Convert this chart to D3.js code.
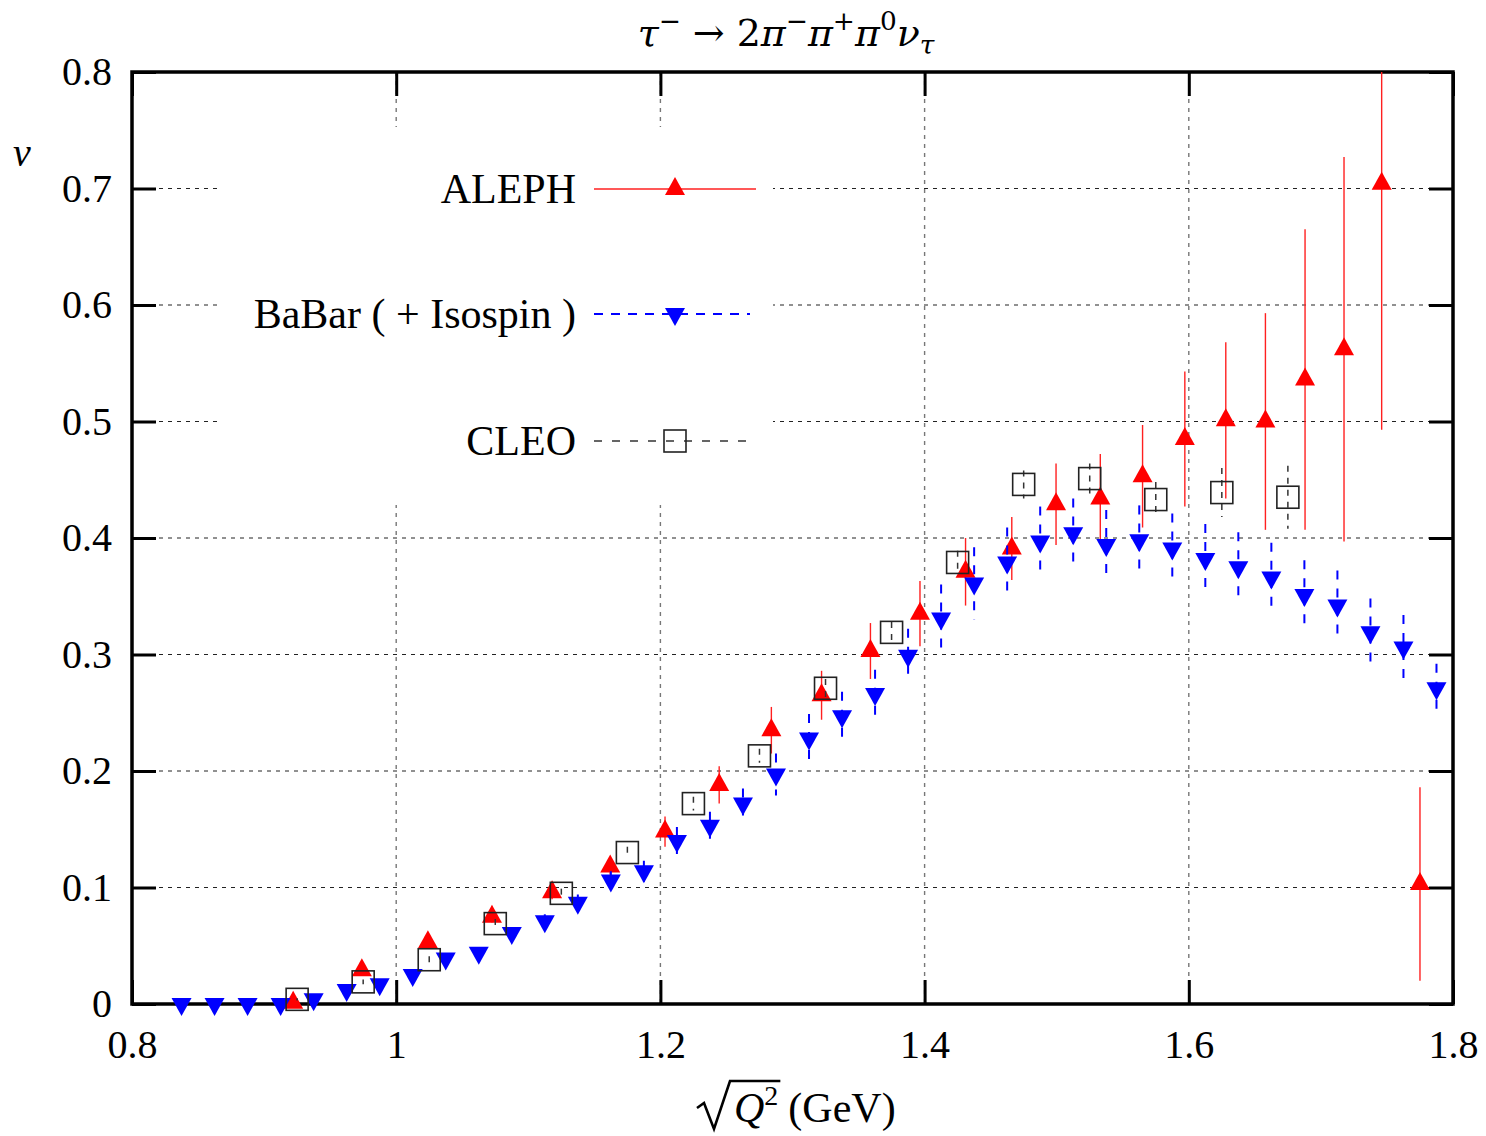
<!DOCTYPE html>
<html>
<head>
<meta charset="utf-8">
<script src="https://cdn.jsdelivr.net/npm/d3@7"></script>
<style>
  html, body { margin: 0; padding: 0; background: #fff; }
  svg { display: block; }
  text { font-family: "Liberation Serif", "DejaVu Serif", serif; fill: #000; }
  text.title { font-family: "DejaVu Serif", "Liberation Serif", serif; }
</style>
</head>
<body>
<svg id="chart" width="1486" height="1136"></svg>
<script>
// ---------------- data ----------------
const xTickValues = [0.8, 1.0, 1.2, 1.4, 1.6, 1.8];
const xTickLabels = ["0.8", "1", "1.2", "1.4", "1.6", "1.8"];
const yTickValues = [0, 0.1, 0.2, 0.3, 0.4, 0.5, 0.6, 0.7, 0.8];
const yTickLabels = ["0", "0.1", "0.2", "0.3", "0.4", "0.5", "0.6", "0.7", "0.8"];
const seriesNames = ["ALEPH", "BaBar ( + Isospin )", "CLEO"];

const alephX = [0.922, 0.974, 1.024, 1.0725, 1.118, 1.162, 1.2035, 1.2445, 1.284, 1.322, 1.359, 1.3965,
                1.431, 1.466, 1.4995, 1.533, 1.565, 1.597, 1.628, 1.658, 1.688, 1.7175, 1.746, 1.775];
const alephY = [0.001, 0.029, 0.053, 0.075, 0.096, 0.118, 0.148, 0.188, 0.235, 0.265, 0.303, 0.335,
                0.371, 0.391, 0.429, 0.434, 0.453, 0.485, 0.501, 0.500, 0.536, 0.562, 0.704, 0.103];
const alephErr = [0.002, 0.003, 0.004, 0.005, 0.006, 0.007, 0.013, 0.016, 0.020, 0.021, 0.024, 0.028,
                  0.029, 0.027, 0.035, 0.038, 0.044, 0.058, 0.067, 0.093, 0.129, 0.165, 0.211, 0.083];

const babarX = [0.8375, 0.8625, 0.8875, 0.9125, 0.9375, 0.9625, 0.9875, 1.0125, 1.0375, 1.0625,
                1.0875, 1.1125, 1.1375, 1.1625, 1.1875, 1.2125, 1.2375, 1.2625, 1.2875, 1.3125,
                1.3375, 1.3625, 1.3875, 1.4125, 1.4375, 1.4625, 1.4875, 1.5125, 1.5375, 1.5625,
                1.5875, 1.6125, 1.6375, 1.6625, 1.6875, 1.7125, 1.7375, 1.7625, 1.7875];
const babarY = [0.000, 0.000, 0.000, 0.000, 0.004, 0.012, 0.017, 0.025, 0.039, 0.044,
                0.061, 0.071, 0.087, 0.106, 0.114, 0.140, 0.153, 0.172, 0.197, 0.228,
                0.247, 0.266, 0.299, 0.331, 0.361, 0.379, 0.397, 0.404, 0.394, 0.398,
                0.391, 0.382, 0.375, 0.366, 0.351, 0.342, 0.319, 0.306, 0.271];
const babarErr = [0.001, 0.001, 0.001, 0.001, 0.001, 0.002, 0.002, 0.003, 0.004, 0.004,
                  0.005, 0.006, 0.007, 0.008, 0.009, 0.012, 0.012, 0.013, 0.018, 0.021,
                  0.021, 0.021, 0.023, 0.029, 0.031, 0.030, 0.030, 0.030, 0.030, 0.030,
                  0.030, 0.030, 0.030, 0.030, 0.030, 0.030, 0.029, 0.028, 0.021];

const cleoX = [0.925, 0.975, 1.025, 1.075, 1.125, 1.175, 1.225, 1.275, 1.325, 1.375,
               1.425, 1.475, 1.525, 1.575, 1.625, 1.675];
const cleoY = [0.004, 0.019, 0.038, 0.069, 0.095, 0.130, 0.172, 0.213, 0.271, 0.319,
               0.379, 0.446, 0.451, 0.433, 0.439, 0.435];
const cleoErr = [0.001, 0.002, 0.003, 0.004, 0.004, 0.005, 0.006, 0.006, 0.008, 0.009,
                 0.010, 0.012, 0.013, 0.015, 0.021, 0.027];

// ---------------- layout ----------------
const L = 132, R = 1453, T = 72, B = 1004;
const svg = d3.select("#chart");
const x = d3.scaleLinear().domain([0.8, 1.8]).range([L, R]);
const y = d3.scaleLinear().domain([0, 0.8]).range([B, T]);

const zip = (xs, ys, es) => xs.map((v, i) => ({x: v, y: ys[i], e: es[i]}));
const aleph = zip(alephX, alephY, alephErr);
const babar = zip(babarX, babarY, babarErr);
const cleo = zip(cleoX, cleoY, cleoErr);

svg.append("defs").append("clipPath").attr("id", "plotclip")
  .append("rect").attr("x", L).attr("y", T).attr("width", R - L).attr("height", B - T);

// ---------------- grid ----------------
const grid = svg.append("g");
grid.selectAll("line.hg").data(yTickValues.filter(v => v > 0 && v < 0.8)).join("line")
  .attr("x1", L).attr("x2", R).attr("y1", d => y(d)).attr("y2", d => y(d))
  .attr("stroke", "#222").attr("stroke-width", 1).attr("stroke-dasharray", "4,5");
grid.selectAll("line.vg").data(xTickValues.filter(v => v > 0.8 && v < 1.8)).join("line")
  .attr("x1", d => x(d)).attr("x2", d => x(d)).attr("y1", T).attr("y2", B)
  .attr("stroke", "#777").attr("stroke-width", 1.4).attr("stroke-dasharray", "4,5");

// legend background (opaque)
svg.append("rect").attr("x", 222).attr("y", 127).attr("width", 551).attr("height", 378).attr("fill", "#fff");

// ---------------- axes ----------------
const tickLen = 24;
const fmtX = d => xTickLabels[xTickValues.indexOf(d)];
const fmtY = d => yTickLabels[yTickValues.indexOf(d)];

function styleAxis(g) {
  g.select(".domain").remove();
  g.selectAll(".tick line").attr("stroke", "#000").attr("stroke-width", 3);
  g.selectAll(".tick text").attr("font-size", 40).attr("fill", "#000");
}
svg.append("g").attr("transform", `translate(0,${B})`)
  .call(d3.axisBottom(x).tickValues(xTickValues).tickFormat(fmtX).tickSize(-tickLen).tickPadding(26))
  .call(styleAxis);
svg.append("g").attr("transform", `translate(0,${T})`)
  .call(d3.axisTop(x).tickValues(xTickValues).tickFormat("").tickSize(-tickLen))
  .call(styleAxis);
svg.append("g").attr("transform", `translate(${L},0)`)
  .call(d3.axisLeft(y).tickValues(yTickValues).tickFormat(fmtY).tickSize(-tickLen).tickPadding(20))
  .call(styleAxis);
svg.append("g").attr("transform", `translate(${R},0)`)
  .call(d3.axisRight(y).tickValues(yTickValues).tickFormat("").tickSize(-tickLen))
  .call(styleAxis);

// frame
svg.append("rect").attr("x", L).attr("y", T).attr("width", R - L).attr("height", B - T)
  .attr("fill", "none").attr("stroke", "#000").attr("stroke-width", 3.5);

// ---------------- markers ----------------
const upTri = (cx, cy) => `M${cx},${cy - 12}L${cx + 10},${cy + 6}L${cx - 10},${cy + 6}Z`;
const dnTri = (cx, cy) => `M${cx - 10},${cy - 6}L${cx + 10},${cy - 6}L${cx},${cy + 12}Z`;

// ALEPH
const gA = svg.append("g");
gA.append("g").attr("clip-path", "url(#plotclip)").selectAll("line").data(aleph).join("line")
  .attr("x1", d => x(d.x)).attr("x2", d => x(d.x))
  .attr("y1", d => y(d.y + d.e)).attr("y2", d => y(d.y - d.e))
  .attr("stroke", "#ff2020").attr("stroke-width", 1.4);
gA.selectAll("path").data(aleph).join("path")
  .attr("d", d => upTri(x(d.x), y(d.y))).attr("fill", "#ff0000");

// BaBar
const gB = svg.append("g");
gB.append("g").attr("clip-path", "url(#plotclip)").selectAll("line").data(babar).join("line")
  .attr("x1", d => x(d.x)).attr("x2", d => x(d.x))
  .attr("y1", d => y(d.y + d.e)).attr("y2", d => y(d.y - d.e))
  .attr("stroke", "#0000ff").attr("stroke-width", 2).attr("stroke-dasharray", "9,9");
gB.selectAll("path").data(babar).join("path")
  .attr("d", d => dnTri(x(d.x), y(d.y))).attr("fill", "#0000ff");

// CLEO
const gC = svg.append("g");
gC.append("g").attr("clip-path", "url(#plotclip)").selectAll("line").data(cleo).join("line")
  .attr("x1", d => x(d.x)).attr("x2", d => x(d.x))
  .attr("y1", d => y(d.y + d.e)).attr("y2", d => y(d.y - d.e))
  .attr("stroke", "#333").attr("stroke-width", 1.5).attr("stroke-dasharray", "6,6");
gC.selectAll("rect").data(cleo).join("rect")
  .attr("x", d => x(d.x) - 11).attr("y", d => y(d.y) - 11).attr("width", 22).attr("height", 22)
  .attr("fill", "none").attr("stroke", "#222").attr("stroke-width", 1.6);

// ---------------- legend ----------------
const legRows = [189, 314, 441];
const leg = svg.append("g");
seriesNames.forEach((name, i) => {
  leg.append("text").attr("x", 576).attr("y", legRows[i] + 14).attr("text-anchor", "end")
    .attr("font-size", 42).text(name);
});
leg.append("line").attr("x1", 594).attr("x2", 756).attr("y1", legRows[0]).attr("y2", legRows[0])
  .attr("stroke", "#ff2020").attr("stroke-width", 1.4);
leg.append("path").attr("d", upTri(675, legRows[0])).attr("fill", "#ff0000");
leg.append("line").attr("x1", 594).attr("x2", 750).attr("y1", legRows[1]).attr("y2", legRows[1])
  .attr("stroke", "#0000ff").attr("stroke-width", 2).attr("stroke-dasharray", "9,8");
leg.append("path").attr("d", dnTri(675, legRows[1])).attr("fill", "#0000ff");
leg.append("line").attr("x1", 594).attr("x2", 756).attr("y1", legRows[2]).attr("y2", legRows[2])
  .attr("stroke", "#333").attr("stroke-width", 1.4).attr("stroke-dasharray", "8,10");
leg.append("rect").attr("x", 664).attr("y", legRows[2] - 11).attr("width", 22).attr("height", 22)
  .attr("fill", "none").attr("stroke", "#222").attr("stroke-width", 1.6);

// ---------------- titles ----------------
const title = svg.append("text").attr("class", "title").attr("x", 786).attr("y", 46)
  .attr("text-anchor", "middle").attr("font-size", 36);
const tParts = [
  {t: "τ", i: true}, {t: "−", s: "sup"}, {t: " → 2"}, {t: "π", i: true}, {t: "−", s: "sup"},
  {t: "π", i: true}, {t: "+", s: "sup"}, {t: "π", i: true}, {t: "0", s: "sup"},
  {t: "ν", i: true}, {t: "τ", i: true, s: "sub"}
];
let prevShift = 0;
tParts.forEach(p => {
  const shift = p.s === "sup" ? -15 : p.s === "sub" ? 8 : 0;
  title.append("tspan").attr("dy", shift - prevShift)
    .attr("font-style", p.i ? "italic" : "normal")
    .attr("font-size", p.s ? 25 : 36).text(p.t);
  prevShift = shift;
});
// fit title to the reference width (~298 px)
{
  const w = title.node().getBBox().width;
  const k = 298 / w;
  if (k > 0.6 && k < 1.6) {
    title.selectAll("tspan").each(function() {
      const s = d3.select(this);
      s.attr("font-size", +s.attr("font-size") * k).attr("dy", +s.attr("dy") * k);
    });
  }
}

// y label
svg.append("text").attr("x", 22).attr("y", 166).attr("text-anchor", "middle")
  .attr("font-size", 40).attr("font-style", "italic").text("v");

// x label: sqrt(Q^2) (GeV)
const xl = svg.append("g");
const qText = xl.append("text").attr("x", 734).attr("y", 1122).attr("font-size", 42);
qText.append("tspan").attr("font-style", "italic").text("Q");
qText.append("tspan").attr("font-size", 28).attr("dy", -17).text("2");
const qW = qText.node().getBBox().width;
const qEnd = 734 + qW + 2;
xl.append("path")
  .attr("d", `M697,1108 L704,1103 L714,1129 L730,1081 L${qEnd},1081`)
  .attr("fill", "none").attr("stroke", "#000").attr("stroke-width", 2.6).attr("stroke-linejoin", "miter");
xl.append("text").attr("x", qEnd + 8).attr("y", 1122).attr("font-size", 42).text("(GeV)");
</script>
</body>
</html>
